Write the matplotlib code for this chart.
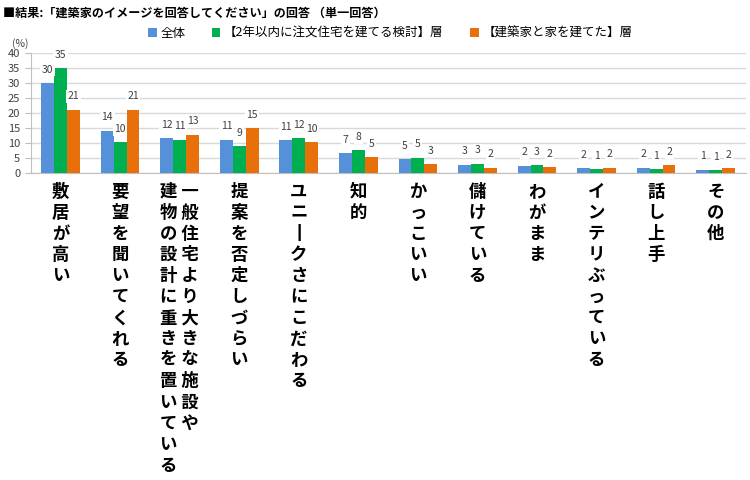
import matplotlib
matplotlib.use("Agg")
import matplotlib.pyplot as plt
import numpy as np

plt.rcParams['font.family'] = ['Noto Sans CJK JP', 'DejaVu Sans']

# données
categories = ["敷居が高い", "要望を聞いてくれる",
              "一般住宅より大きな施設や\n建物の設計に重きを置いている",
              "提案を否定しづらい", "ユニークさにこだわる", "知的", "かっこいい",
              "儲けている", "わがまま", "インテリぶっている", "話し上手", "その他"]
series_names = ["全体", "【2年以内に注文住宅を建てる検討】層", "【建築家と家を建てた】層"]
zentai = [30.0, 14.1, 11.7, 11.1, 11.0, 6.7, 4.6, 2.8, 2.4, 1.6, 1.8, 1.1]
kentou = [35.0, 10.2, 11.1, 9.0, 11.5, 7.5, 5.1, 3.1, 2.6, 1.2, 1.2, 0.9]
tateta = [21.1, 21.1, 12.8, 15.0, 10.2, 5.3, 3.0, 1.8, 1.9, 1.8, 2.5, 1.5]
colors = ['#5591D8', '#00B050', '#E8700A']


def vertical(label):
    # texte vertical : une colonne par ligne, de droite à gauche
    cols = [l.replace('ー', '丨') for l in label.split('\n')][::-1]
    n = max(len(c) for c in cols)
    cols = [c + '　' * (n - len(c)) for c in cols]
    return '\n'.join(' '.join(c[i] for c in cols) for i in range(n))


fig = plt.figure(figsize=(7.5, 4.8), dpi=100)
ax = fig.add_axes([0.041, 0.6396, 0.953, 0.25])

x = np.arange(len(categories))
w = 0.216
for i, (vals, col) in enumerate(zip([zentai, kentou, tateta], colors)):
    bars = ax.bar(x + (i - 1) * w, vals, w, color=col, label=series_names[i], zorder=3)
    for b, v in zip(bars, vals):
        ax.annotate('%.0f' % v, (b.get_x() + b.get_width() / 2, v),
                    xytext=(0, 6), textcoords='offset points', ha='center', va='bottom',
                    fontsize=7.5, color='#404040', zorder=4,
                    bbox=dict(boxstyle='square,pad=0.15', fc='white', ec='none'))

ax.set_xlim(-0.5, len(categories) - 0.5)
ax.set_ylim(0, 40)
ax.set_yticks(range(0, 41, 5))
ax.grid(axis='y', color='#D9D9D9', linewidth=1, zorder=0)
for s in ['top', 'right']:
    ax.spines[s].set_visible(False)
ax.spines['left'].set_color('#BFBFBF')
ax.spines['bottom'].set_color('#BFBFBF')
ax.tick_params(axis='y', labelsize=8, labelcolor='#404040', color='#BFBFBF', length=4)
ax.tick_params(axis='x', length=0, pad=7)
ax.set_xticks(x)
ax.set_xticklabels([vertical(c) for c in categories], fontsize=12.5,
                   fontweight='bold', linespacing=1.22, va='top')

fig.text(0.016, 0.91, "(%)", fontsize=7.5, color='#404040', va='center')
fig.text(0.004, 0.972, "■結果:「建築家のイメージを回答してください」の回答 （単一回答）",
         fontsize=8.7, fontweight='bold', va='center')
fig.legend(loc='center left', bbox_to_anchor=(0.197, 0.931), ncol=3, frameon=False,
           fontsize=9, handlelength=0.7, handleheight=0.7, handletextpad=0.3,
           columnspacing=2.1, borderaxespad=0, borderpad=0)

fig.savefig("out.png", dpi=100)
